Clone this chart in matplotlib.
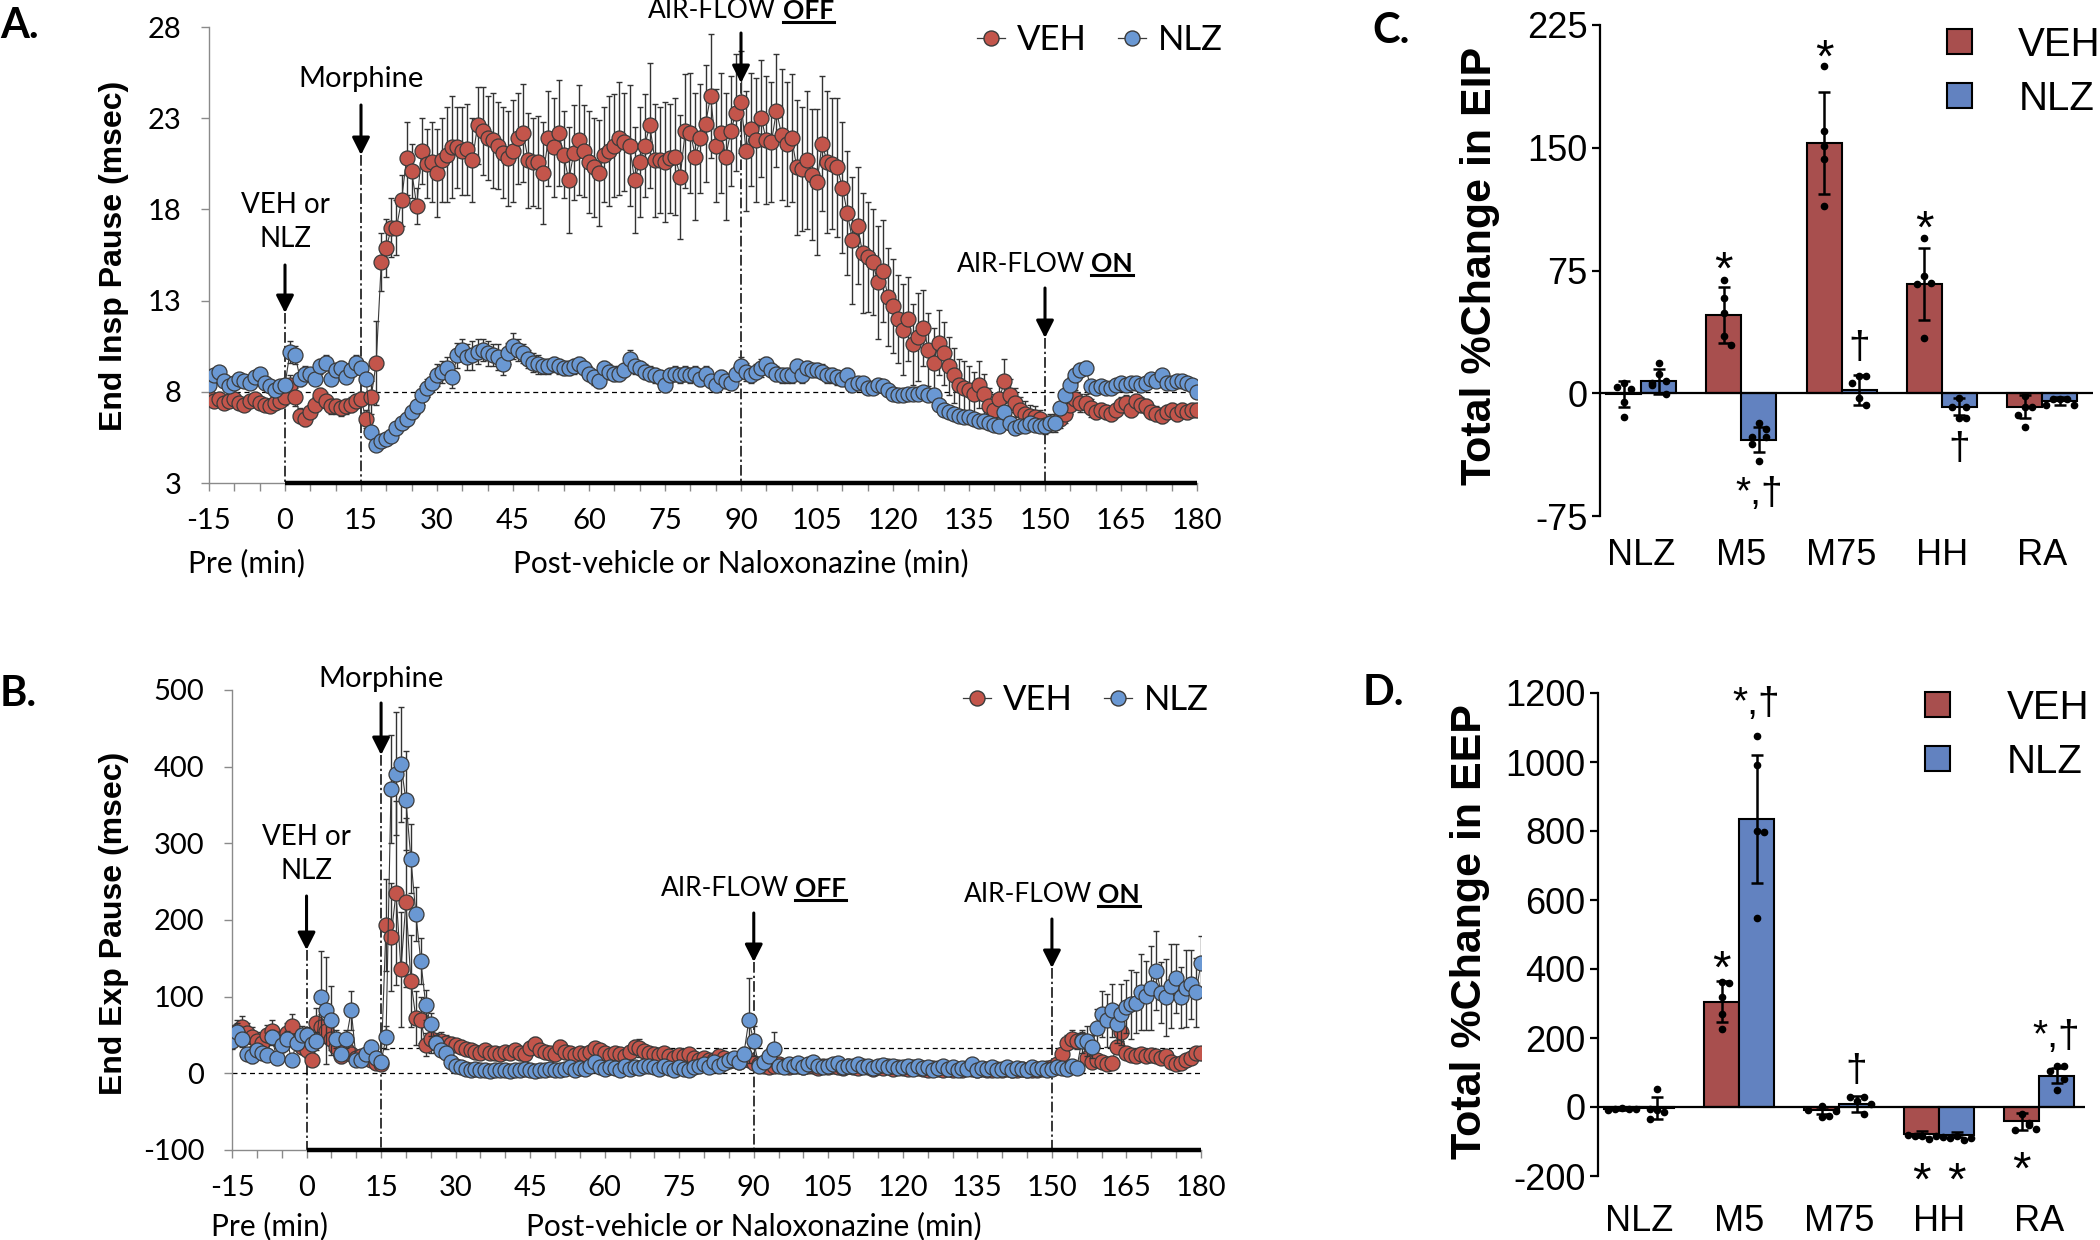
import matplotlib
matplotlib.use("Agg")
import matplotlib.pyplot as plt
import matplotlib.transforms as mtrans
from matplotlib.lines import Line2D
from matplotlib.patches import Patch
import numpy as np

# ---------------- data ----------------
minutes = np.arange(-15, 181)

# Panel A: end inspiratory pause (msec), one value per minute
eip_veh = [7.7, 7.5, 7.6, 7.4, 7.5, 7.6, 7.4, 7.3, 7.5, 7.6, 7.4, 7.3, 7.2, 7.4, 7.5,
           7.7, 8.4, 7.7, 6.7, 6.5, 6.9, 7.3, 7.8, 7.5, 7.2,
           7.2, 7.1, 7.2, 7.3, 7.5, 7.6, 6.5, 7.7, 9.6, 15.1,
           15.9, 17.0, 17.0, 18.5, 20.8, 20.1, 18.2, 21.2, 20.5, 20.6,
           20.0, 20.7, 21.0, 21.4, 21.4, 21.2, 21.3, 20.7, 22.6, 22.3,
           21.9, 21.8, 21.5, 21.1, 20.8, 21.2, 21.9, 22.2, 20.7, 20.6,
           20.6, 20.0, 21.9, 21.4, 22.2, 21.0, 19.6, 21.1, 21.8, 21.2,
           20.6, 20.3, 20.0, 21.0, 21.2, 21.5, 21.9, 21.7, 21.5, 19.6,
           20.6, 21.5, 22.6, 20.7, 20.7, 20.6, 20.8, 20.9, 19.8, 22.3,
           22.2, 20.9, 21.9, 22.7, 24.2, 21.5, 22.2, 20.9, 22.3, 23.3,
           23.9, 21.2, 22.4, 21.8, 23.0, 21.8, 21.7, 23.4, 22.1, 21.6,
           21.9, 20.3, 20.2, 20.7, 19.9, 19.5, 21.6, 20.6, 20.5, 20.3,
           19.2, 17.8, 16.3, 17.1, 15.6, 15.4, 15.1, 14.0, 14.6, 13.2,
           12.7, 12.0, 11.4, 12.0, 10.6, 11.0, 11.5, 10.3, 9.6, 10.7,
           10.1, 9.4, 8.9, 8.4, 8.2, 8.1, 7.9, 8.4, 7.9, 7.2,
           7.0, 7.6, 8.6, 7.8, 7.4, 7.0, 6.8, 6.7, 6.6, 6.5,
           6.2, 6.3, 6.3, 6.5, 6.8, 7.3, 7.6, 7.4, 7.4, 7.1,
           6.9, 7.0, 6.9, 6.8, 7.0, 7.3, 7.4, 7.0, 7.5, 7.3,
           7.2, 6.9, 6.8, 6.7, 6.9, 7.0, 6.8, 7.0, 6.9, 7.0, 7.0]
eip_veh_sem = [0.3, 0.3, 0.3, 0.3, 0.3, 0.3, 0.3, 0.3, 0.3, 0.3, 0.3, 0.3, 0.3, 0.3, 0.3,
               0.4, 0.5, 0.5, 0.4, 0.4, 0.4, 0.4, 0.4, 0.4, 0.4,
               0.4, 0.4, 0.4, 0.4, 0.4, 0.4, 0.5, 0.9, 2.3, 1.6,
               1.6, 1.6, 1.5, 1.4, 2.0, 1.5, 1.0, 1.8, 1.9, 2.2,
               2.4, 2.3, 2.6, 2.8, 2.2, 2.4, 2.5, 2.3, 2.1, 2.4,
               2.3, 2.6, 2.4, 2.5, 2.6, 2.8, 2.5, 2.7, 2.6, 2.4,
               2.5, 2.8, 2.6, 2.7, 2.9, 2.4, 2.9, 2.6, 3.0, 2.5,
               2.8, 2.7, 2.9, 2.6, 3.0, 2.8, 3.1, 2.7, 3.3, 2.9,
               3.0, 2.8, 3.4, 3.1, 2.9, 3.3, 3.0, 3.2, 3.4, 3.1,
               3.3, 3.5, 3.0, 3.2, 3.4, 3.1, 3.3, 3.5, 3.0, 3.2,
               2.8, 3.3, 3.1, 3.4, 3.2, 3.5, 3.3, 3.1, 3.6, 3.4,
               3.5, 3.7, 3.4, 3.8, 3.6, 4.0, 3.7, 3.9, 3.6, 3.8,
               3.6, 3.4, 3.5, 3.2, 3.3, 3.0, 2.9, 3.1, 2.8, 2.7,
               2.6, 2.4, 2.5, 2.3, 2.2, 2.4, 2.1, 2.0, 1.9, 1.8,
               1.7, 1.6, 1.5, 1.4, 1.5, 1.3, 1.2, 1.3, 1.1, 1.0,
               0.9, 1.0, 1.2, 0.9, 0.8, 0.7, 0.7, 0.6, 0.6, 0.5,
               0.5, 0.5, 0.5, 0.5, 0.5, 0.5, 0.5, 0.5, 0.5, 0.5,
               0.4, 0.4, 0.4, 0.4, 0.4, 0.4, 0.4, 0.4, 0.4, 0.4,
               0.4, 0.4, 0.4, 0.4, 0.4, 0.4, 0.4, 0.4, 0.4, 0.4, 0.4]
eip_nlz = [8.4, 8.9, 9.1, 8.6, 8.3, 8.5, 8.7, 8.6, 8.5, 8.8, 9.0, 8.5, 8.3, 8.1, 8.3,
           8.4, 10.2, 10.0, 8.7, 9.0, 9.0, 8.7, 9.4, 9.6, 8.7,
           9.2, 9.3, 8.8, 9.2, 9.6, 9.3, 8.7, 5.8, 5.1, 5.3,
           5.4, 5.6, 6.0, 6.3, 6.5, 6.9, 7.2, 7.8, 8.2, 8.5,
           8.9, 9.1, 9.3, 8.8, 10.0, 10.3, 9.9, 10.0, 10.2, 10.3,
           10.1, 10.0, 9.9, 9.5, 10.1, 10.5, 10.3, 10.1, 9.8, 9.6,
           9.5, 9.4, 9.4, 9.5, 9.4, 9.3, 9.3, 9.4, 9.5, 9.3,
           9.0, 8.8, 8.6, 9.3, 9.1, 9.0, 9.0, 9.2, 9.8, 9.4,
           9.3, 9.1, 9.0, 8.9, 8.8, 8.4, 8.9, 9.0, 8.9, 9.0,
           8.9, 9.0, 8.7, 9.0, 8.6, 8.4, 8.8, 8.6, 8.5, 9.0,
           9.4, 9.1, 8.9, 9.1, 9.3, 9.5, 9.2, 9.0, 8.9, 8.9,
           8.9, 9.4, 8.9, 9.3, 9.2, 9.2, 9.1, 8.9, 8.9, 8.8,
           8.7, 8.9, 8.4, 8.5, 8.5, 8.2, 8.2, 8.4, 8.3, 8.1,
           7.9, 7.8, 7.8, 7.9, 7.9, 7.9, 8.0, 7.8, 7.8, 7.3,
           7.0, 6.9, 6.8, 6.7, 6.6, 6.6, 6.5, 6.4, 6.4, 6.3,
           6.2, 6.1, 6.9, 6.3, 6.0, 6.1, 6.1, 6.3, 6.2, 6.1,
           6.1, 6.3, 6.3, 7.1, 7.8, 8.4, 8.9, 9.2, 9.3, 8.3,
           8.2, 8.3, 8.2, 8.2, 8.4, 8.5, 8.4, 8.5, 8.5, 8.4,
           8.5, 8.7, 8.6, 8.9, 8.5, 8.5, 8.6, 8.6, 8.5, 8.4, 8.0]
eip_nlz_sem = [0.3, 0.3, 0.3, 0.3, 0.3, 0.3, 0.3, 0.3, 0.3, 0.3, 0.3, 0.3, 0.3, 0.3, 0.3,
               0.3, 0.6, 0.5, 0.4, 0.4, 0.3, 0.3, 0.4, 0.4, 0.3,
               0.3, 0.4, 0.3, 0.4, 0.4, 0.3, 0.3, 0.3, 0.3, 0.3,
               0.3, 0.3, 0.3, 0.3, 0.4, 0.4, 0.4, 0.5, 0.5, 0.5,
               0.6, 0.6, 0.6, 0.6, 0.7, 0.6, 0.7, 0.8, 0.7, 0.6,
               0.7, 0.6, 0.7, 0.6, 0.6, 0.7, 0.6, 0.5, 0.5, 0.5,
               0.5, 0.4, 0.4, 0.4, 0.4, 0.4, 0.4, 0.4, 0.4, 0.4,
               0.4, 0.4, 0.4, 0.4, 0.4, 0.4, 0.4, 0.4, 0.5, 0.4,
               0.4, 0.4, 0.4, 0.4, 0.4, 0.4, 0.4, 0.4, 0.4, 0.4,
               0.4, 0.4, 0.4, 0.4, 0.4, 0.4, 0.4, 0.4, 0.4, 0.4,
               0.5, 0.5, 0.4, 0.4, 0.5, 0.4, 0.4, 0.4, 0.4, 0.4,
               0.4, 0.4, 0.4, 0.4, 0.4, 0.4, 0.4, 0.4, 0.4, 0.4,
               0.4, 0.4, 0.3, 0.3, 0.3, 0.3, 0.3, 0.3, 0.3, 0.3,
               0.3, 0.3, 0.3, 0.3, 0.3, 0.3, 0.3, 0.3, 0.3, 0.3,
               0.3, 0.3, 0.3, 0.3, 0.3, 0.3, 0.3, 0.3, 0.3, 0.3,
               0.3, 0.3, 0.3, 0.3, 0.3, 0.3, 0.3, 0.3, 0.3, 0.3,
               0.3, 0.3, 0.3, 0.3, 0.4, 0.4, 0.4, 0.4, 0.4, 0.3,
               0.3, 0.3, 0.3, 0.3, 0.3, 0.3, 0.3, 0.3, 0.3, 0.3,
               0.3, 0.3, 0.3, 0.3, 0.3, 0.3, 0.3, 0.3, 0.3, 0.3, 0.3]

# Panel B: end expiratory pause (msec)
eep_veh = [45, 55, 60, 52, 48, 42, 40, 50, 55, 45, 38, 52, 62, 42, 35,
           30, 18, 65, 60, 55, 45, 35, 22, 32, 25,
           20, 22, 20, 17, 14, 12, 193, 178, 235, 136,
           223, 121, 72, 69, 37, 45, 40, 42, 40, 38,
           37, 35, 32, 30, 28, 27, 30, 26, 27, 25,
           28, 26, 30, 27, 25, 33, 38, 30, 28, 26,
           25, 35, 28, 26, 24, 27, 25, 28, 33, 30,
           26, 24, 27, 25, 23, 28, 34, 33, 29, 27,
           25, 24, 27, 22, 20, 24, 22, 25, 20, 18,
           20, 18, 17, 22, 20, 16, 18, 15, 20, 18,
           14, 12, 10, 8, 10, 12, 9, 8, 10, 9,
           8, 10, 9, 7, 9, 8, 10, 8, 7, 9,
           8, 7, 9, 8, 6, 8, 7, 9, 6, 8,
           7, 6, 8, 7, 6, 5, 7, 6, 5, 6,
           5, 6, 5, 7, 6, 5, 6, 5, 4, 6,
           5, 6, 5, 4, 6, 5, 4, 5, 6, 7,
           8, 12, 25, 40, 45, 42, 44, 20, 15, 18,
           15, 12, 14, 35, 54, 27, 24, 22, 25, 22,
           24, 22, 20, 22, 15, 12, 14, 18, 20, 27, 26]
eep_veh_sem = [12, 14, 15, 13, 12, 12, 11, 13, 15, 12, 10, 14, 16, 12, 10,
               10, 8, 20, 18, 16, 14, 12, 8, 10, 8,
               7, 8, 7, 6, 5, 5, 60, 70, 120, 75,
               110, 60, 35, 30, 15, 18, 12, 12, 10, 10,
               8, 8, 7, 7, 6, 6, 7, 6, 6, 6,
               6, 6, 7, 6, 6, 9, 10, 7, 6, 6,
               6, 8, 6, 6, 5, 6, 5, 6, 8, 7,
               6, 5, 6, 5, 5, 6, 9, 12, 7, 6,
               5, 5, 5, 5, 5, 5, 5, 5, 5, 5,
               5, 4, 4, 5, 4, 4, 4, 4, 5, 4,
               4, 3, 3, 3, 3, 3, 3, 3, 3, 3,
               3, 3, 3, 3, 3, 3, 3, 3, 3, 3,
               3, 3, 3, 3, 3, 3, 3, 3, 3, 3,
               3, 3, 3, 3, 3, 3, 3, 3, 3, 3,
               3, 3, 3, 3, 3, 3, 3, 3, 3, 3,
               3, 3, 3, 3, 3, 3, 3, 3, 3, 3,
               3, 4, 6, 10, 12, 10, 10, 6, 5, 5,
               5, 4, 5, 8, 12, 7, 6, 5, 6, 5,
               6, 5, 5, 5, 4, 4, 4, 5, 6, 8, 8]
eep_nlz = [42, 54, 45, 25, 22, 30, 27, 24, 47, 20, 37, 45, 17, 40, 50,
           50, 38, 42, 99, 82, 69, 45, 25, 45, 82,
           17, 17, 25, 35, 20, 15, 47, 371, 391, 403,
           356, 280, 208, 146, 89, 64, 40, 30, 27, 15,
           10, 8, 6, 5, 6, 4, 5, 3, 4, 5,
           4, 3, 5, 4, 6, 4, 3, 5, 4, 6,
           5, 4, 6, 8, 5, 7, 6, 9, 15, 8,
           6, 8, 7, 5, 9, 6, 8, 7, 10, 9,
           8, 6, 9, 7, 5, 8, 6, 5, 8, 10,
           12, 8, 15, 10, 14, 18, 20, 15, 25, 69,
           42, 10, 15, 22, 32, 10, 8, 12, 10, 14,
           8, 12, 15, 10, 8, 9, 12, 14, 8, 10,
           9, 12, 8, 10, 7, 9, 11, 8, 10, 7,
           8, 10, 6, 9, 7, 8, 5, 7, 9, 6,
           8, 5, 7, 6, 12, 5, 7, 6, 8, 5,
           6, 8, 5, 7, 6, 5, 8, 6, 7, 5,
           6, 8, 7, 6, 10, 7, 42, 42, 35, 59,
           77, 69, 82, 64, 77, 87, 90, 92, 106, 101,
           111, 134, 105, 99, 114, 124, 99, 111, 116, 106, 144]
eep_nlz_sem = [10, 12, 10, 8, 8, 8, 8, 8, 10, 7, 9, 10, 6, 10, 12,
               10, 9, 12, 60, 70, 45, 12, 8, 12, 25,
               6, 6, 8, 9, 6, 5, 15, 70, 80, 75,
               65, 45, 35, 30, 20, 15, 10, 8, 6, 5,
               3, 3, 3, 3, 3, 3, 3, 3, 3, 3,
               3, 3, 3, 3, 3, 3, 3, 3, 3, 3,
               3, 3, 3, 3, 3, 3, 3, 3, 4, 3,
               3, 3, 3, 3, 3, 3, 3, 3, 3, 3,
               3, 3, 3, 3, 3, 3, 3, 3, 3, 3,
               3, 3, 4, 3, 4, 4, 4, 4, 10, 55,
               20, 3, 5, 8, 22, 3, 3, 3, 3, 3,
               3, 3, 3, 3, 3, 3, 3, 3, 3, 3,
               3, 3, 3, 3, 3, 3, 3, 3, 3, 3,
               3, 3, 3, 3, 3, 3, 3, 3, 3, 3,
               3, 3, 3, 3, 3, 3, 3, 3, 3, 3,
               3, 3, 3, 3, 3, 3, 3, 3, 3, 3,
               3, 3, 3, 3, 4, 3, 15, 20, 15, 25,
               30, 35, 35, 25, 40, 35, 45, 40, 50, 45,
               55, 52, 40, 50, 55, 45, 40, 50, 45, 45, 35]

# Panels C and D: total % change
groups = ["NLZ", "M5", "M75", "HH", "RA"]
pc_eip_veh = [-0.7, 47.7, 153, 66.9, -8.1]
pc_eip_veh_sd = [8, 17, 31, 22, 7.3]
pc_eip_nlz = [7.2, -28.4, 2, -8.1, -4.5]
pc_eip_nlz_sd = [7.4, 7.5, 9, 5, 2.5]
pc_eip_veh_rats = [[6.1, 2.7, 3.8, -5.2, -14.6], [69.1, 58.3, 48.9, 34.9, 29.7],
                   [199.7, 160.3, 151.3, 143.4, 114.6], [95, 71.4, 67.3, 66.9, 33.6],
                   [-1.8, -8.6, -8.6, -13.1, -20.5]]
pc_eip_nlz_rats = [[18.5, 11.7, 7.2, 6.1, 5, -0.7], [-18.2, -22.1, -26.6, -26.6, -31.1, -41.7],
                   [10.6, 10.6, 6.1, -2.9, -7.4], [-2.9, -8.1, -8.6, -14.9, -14.9],
                   [-3.4, -3.4, -3.4, -7.4, -7.4]]
pc_eep_veh = [-5, 305, -9, -78, -41]
pc_eep_veh_sd = [3, 59, 10, 8, 25]
pc_eep_nlz = [-3, 834, 7.5, -80, 91]
pc_eep_nlz_sd = [33, 185, 23, 8, 21]
pc_eep_veh_rats = [[-4, -5, -6, -6, -8], [363, 360, 320, 270, 227], [4, -30, -27, -11, -9],
                   [-83, -94, -83, -83, -81], [-19, -46, -51, -67, -65]]
pc_eep_nlz_rats = [[53, -9, -14, -6, -35], [1075, 991, 799, 797, 548], [16, 29, 29, 7.5, -19],
                   [-83, -96, -89, -89, -87], [120, 120, 104, 82, 50]]

# ---------------- style ----------------
W, H = 2100, 1240
RED = "#C3554B"
BLUE = "#6A98D3"
BAR_RED = "#A84F4E"
BAR_BLUE = "#6282C0"
EDGE = "#3a3a3a"
AXGRAY = "#8a8a8a"
XL = ["Lato", "DejaVu Sans"]
ARIAL = ["Liberation Sans", "DejaVu Sans"]

plt.rcParams["font.family"] = XL
plt.rcParams["axes.unicode_minus"] = False

fig = plt.figure(figsize=(W / 100, H / 100), dpi=100)


def fx(x):
    return x / W


def fy(y):
    return 1 - y / H


def axes_px(left, top, right, bottom):
    return fig.add_axes([fx(left), fy(bottom), (right - left) / W, (bottom - top) / H])


def airflow_label(ax, t, ycen, word):
    blend = mtrans.blended_transform_factory(ax.transData, fig.transFigure)
    t1 = ax.text(t, fy(ycen), "AIR-FLOW", transform=blend, fontsize=19, va="center", ha="left")
    t2 = ax.text(t, fy(ycen), word, transform=blend, fontsize=19, va="center", ha="left",
                 weight="bold")
    r = fig.canvas.get_renderer()
    b1 = t1.get_window_extent(r)
    b2 = t2.get_window_extent(r)
    gap = 6
    total = b1.width + gap + b2.width
    cx = ax.transData.transform((t, 0))[0]
    x0 = cx - total / 2
    t1.set_transform(fig.transFigure)
    t2.set_transform(fig.transFigure)
    t1.set_position((x0 / W, fy(ycen)))
    t2.set_position(((x0 + b1.width + gap) / W, fy(ycen)))
    b2 = t2.get_window_extent(r)
    uy = b2.y0 + 1
    fig.add_artist(Line2D([b2.x0 / W, b2.x1 / W], [uy / H, uy / H], color="k", lw=2.2,
                          transform=fig.transFigure))


def timecourse(ax, veh, veh_err, nlz, nlz_err, ylim, yticks):
    ax.errorbar(minutes, veh, yerr=veh_err, fmt="none", ecolor="#333333", elinewidth=1.0,
                capsize=2.4, capthick=1.0, zorder=3)
    ax.plot(minutes, veh, "-o", color=EDGE, lw=0.8, ms=10.8, mfc=RED, mec=EDGE, mew=0.9,
            zorder=4)
    ax.errorbar(minutes, nlz, yerr=nlz_err, fmt="none", ecolor="#333333", elinewidth=1.0,
                capsize=2.4, capthick=1.0, zorder=5)
    ax.plot(minutes, nlz, "-o", color=EDGE, lw=0.8, ms=10.8, mfc=BLUE, mec=EDGE, mew=0.9,
            zorder=6)
    ax.set_xlim(-15, 180)
    ax.set_ylim(*ylim)
    ax.set_xticks(np.arange(-15, 181, 15))
    ax.set_xticks(np.arange(-15, 181, 5), minor=True)
    ax.set_yticks(yticks)
    for s in ("top", "right"):
        ax.spines[s].set_visible(False)
    for s in ("left", "bottom"):
        ax.spines[s].set_color(AXGRAY)
        ax.spines[s].set_linewidth(1)
    ax.tick_params(which="both", direction="out", color=AXGRAY, length=6, width=1,
                   labelsize=21)
    ax.tick_params(axis="x", pad=12)
    ax.tick_params(axis="y", pad=14)
    ax.plot([0, 180], [ylim[0], ylim[0]], color="k", lw=3.2, solid_capstyle="butt",
            clip_on=False, zorder=7)


def events(ax, items, bottom_px):
    """items: (time, arrow start y, arrow tip y) in pixels."""
    blend = mtrans.blended_transform_factory(ax.transData, fig.transFigure)
    for t, start, tip in items:
        ax.annotate("", xy=(t, fy(tip)), xytext=(t, fy(start)), xycoords=blend,
                    textcoords=blend, annotation_clip=False,
                    arrowprops=dict(arrowstyle="-|>,head_length=0.75,head_width=0.38",
                                    mutation_scale=14, color="k", lw=2.2, shrinkA=0,
                                    shrinkB=0))
        ax.plot([t, t], [fy(tip), fy(bottom_px)], transform=blend, color="k", lw=1.1,
                ls=(0, (7, 2, 1.5, 2)), zorder=2, clip_on=False)


def ts_legend(ax, x, y):
    hs = [Line2D([], [], color=EDGE, lw=0.9, marker="o", ms=10.8, mfc=c, mec=EDGE)
          for c in (RED, BLUE)]
    ax.legend(hs, ["VEH", "NLZ"], ncol=2, loc="center left", bbox_to_anchor=(fx(x), fy(y)),
              bbox_transform=fig.transFigure, frameon=False, fontsize=25, handlelength=0.8,
              handletextpad=0.35, columnspacing=0.9, borderpad=0, borderaxespad=0)


def spread(vals, span, step):
    offs, placed = [], []
    for v in vals:
        n = sum(1 for p in placed if abs(p - v) < span)
        k = (n + 1) // 2
        offs.append(0 if n == 0 else (1 if n % 2 else -1) * k * step)
        placed.append(v)
    return offs


def bars(ax, vm, vs, nm, ns, vr, nr, ylim, yticks, marks, label_pad):
    x = np.arange(len(groups))
    w = 0.35
    span = (ylim[1] - ylim[0]) * 0.02
    ax.bar(x - w / 2, vm, w, color=BAR_RED, edgecolor="k", linewidth=1.5, zorder=2)
    ax.bar(x + w / 2, nm, w, color=BAR_BLUE, edgecolor="k", linewidth=1.5, zorder=2)
    for xs, m, s, rats in ((x - w / 2, vm, vs, vr), (x + w / 2, nm, ns, nr)):
        ax.errorbar(xs, m, yerr=s, fmt="none", ecolor="k", elinewidth=1.8, capsize=4,
                    capthick=1.8, zorder=3)
        for xi, pts in zip(xs, rats):
            offs = spread(pts, span, 0.07)
            ax.plot(xi + np.array(offs), pts, "o", color="k", ms=4.5, zorder=4)
    ax.axhline(0, color="k", lw=1.6, zorder=5)
    ax.set_ylim(*ylim)
    ax.set_yticks(yticks)
    ax.set_xticks(x)
    ax.set_xticklabels(groups)
    for s in ("top", "right", "bottom"):
        ax.spines[s].set_visible(False)
    ax.spines["left"].set_linewidth(1.6)
    ax.tick_params(axis="y", direction="out", length=6, width=1.6, pad=3)
    ax.tick_params(axis="x", length=0, pad=label_pad)
    plt.setp(ax.get_yticklabels(), family=ARIAL, fontsize=26)
    plt.setp(ax.get_xticklabels(), family=ARIAL, fontsize=26)
    for gi, which, yv, txt in marks:
        xo = x[gi] + (-w / 2 if which == "veh" else w / 2)
        size = 34 if txt == "*" else 28
        off = 0.58 * size if txt == "*" else 0.31 * size
        ax.annotate(txt, xy=(xo, yv), xytext=(0, -off), textcoords="offset points",
                    ha="center", va="baseline", fontsize=size, family=ARIAL)


def bar_legend(ax, x, y, textpad):
    hs = [Patch(facecolor=c, edgecolor="k", lw=1.5) for c in (BAR_RED, BAR_BLUE)]
    ax.legend(hs, ["VEH", "NLZ"], loc="upper left", bbox_to_anchor=(fx(x), fy(y)),
              bbox_transform=fig.transFigure, frameon=False,
              prop={"family": ARIAL, "size": 29}, handlelength=0.62, handleheight=0.58,
              handletextpad=textpad, labelspacing=0.4, borderpad=0, borderaxespad=0)


# ---------------- panel A ----------------
axA = axes_px(209, 27, 1197, 483)
timecourse(axA, eip_veh, eip_veh_sem, eip_nlz, eip_nlz_sem, (3, 28), [3, 8, 13, 18, 23, 28])
axA.axhline(8, color="k", lw=0.9, ls=(0, (4, 3)), zorder=2)
events(axA, [(0, 265, 313), (15, 105, 155), (90, 33, 83), (150, 288, 338)], 483)
blendA = mtrans.blended_transform_factory(axA.transData, fig.transFigure)
axA.text(0, fy(222), "VEH or\nNLZ", transform=blendA, ha="center", va="center",
         fontsize=20, linespacing=1.35)
axA.text(15, fy(79), "Morphine", transform=blendA, ha="center", va="center", fontsize=21)
axA.text(-7.5, fy(563), "Pre (min)", transform=blendA, ha="center", va="center", fontsize=21.5)
axA.text(90, fy(563), "Post-vehicle or Naloxonazine (min)", transform=blendA, ha="center",
         va="center", fontsize=21.5)
airflow_label(axA, 90, 11, "OFF")
airflow_label(axA, 150, 264, "ON")
ts_legend(axA, 977, 40)
fig.text(fx(114), fy(256), "End Insp Pause (msec)", rotation=90, ha="center", va="center",
         fontsize=23, weight="bold", family=ARIAL)
fig.text(fx(0), fy(26), "A.", ha="left", va="center", fontsize=30, weight="bold")

# ---------------- panel B ----------------
axB = axes_px(232, 690, 1201, 1150)
timecourse(axB, eep_veh, eep_veh_sem, eep_nlz, eep_nlz_sem, (-100, 500),
           [-100, 0, 100, 200, 300, 400, 500])
axB.axhline(0, color="k", lw=0.9, ls=(0, (4, 3)), zorder=2)
axB.plot([15, 180], [33, 33], color="k", lw=0.9, ls=(0, (4, 3)), zorder=2)
events(axB, [(0, 896, 950), (15, 703, 755), (90, 913, 962), (150, 919, 968)], 1150)
blendB = mtrans.blended_transform_factory(axB.transData, fig.transFigure)
axB.text(0, fy(854), "VEH or\nNLZ", transform=blendB, ha="center", va="center",
         fontsize=20, linespacing=1.35)
axB.text(15, fy(679), "Morphine", transform=blendB, ha="center", va="center", fontsize=21)
axB.text(-7.5, fy(1226), "Pre (min)", transform=blendB, ha="center", va="center",
         fontsize=21.5)
axB.text(90, fy(1226), "Post-vehicle or Naloxonazine (min)", transform=blendB, ha="center",
         va="center", fontsize=21.5)
airflow_label(axB, 90, 889, "OFF")
airflow_label(axB, 150, 895, "ON")
ts_legend(axB, 963, 700)
fig.text(fx(114), fy(923), "End Exp Pause (msec)", rotation=90, ha="center", va="center",
         fontsize=23, weight="bold", family=ARIAL)
fig.text(fx(0), fy(694), "B.", ha="left", va="center", fontsize=30, weight="bold")

# ---------------- panel C ----------------
axC = axes_px(1600, 25, 2093, 516)
axC.set_xlim(-0.41, 4.507)
bars(axC, pc_eip_veh, pc_eip_veh_sd, pc_eip_nlz, pc_eip_nlz_sd, pc_eip_veh_rats,
     pc_eip_nlz_rats, (-75, 225), [-75, 0, 75, 150, 225],
     [(1, "veh", 83.8, "*"), (1, "nlz", -60, "*,†"), (2, "veh", 213, "*"),
      (2, "nlz", 28.6, "†"), (3, "veh", 108.5, "*"), (3, "nlz", -33, "†")], 16)
bar_legend(axC, 1947, 26, 1.15)
fig.text(fx(1480), fy(266), "Total %Change in EIP", rotation=90, ha="center", va="center",
         fontsize=31, weight="bold", family=ARIAL)
fig.text(fx(1372), fy(31), "C.", ha="left", va="center", fontsize=30, weight="bold")

# ---------------- panel D ----------------
axD = axes_px(1598, 693, 2085, 1176)
axD.set_xlim(-0.41, 4.46)
bars(axD, pc_eep_veh, pc_eep_veh_sd, pc_eep_nlz, pc_eep_nlz_sd, pc_eep_veh_rats,
     pc_eep_nlz_rats, (-200, 1200), [-200, 0, 200, 400, 600, 800, 1000, 1200],
     [(1, "veh", 441, "*"), (1, "nlz", 1173, "*,†"), (2, "nlz", 109, "†"),
      (4, "nlz", 208, "*,†"), (3, "veh", -174, "*"), (3, "nlz", -174, "*"),
      (4, "veh", -142, "*")], 20)
bar_legend(axD, 1925, 689, 1.4)
fig.text(fx(1470), fy(932), "Total %Change in EEP", rotation=90, ha="center", va="center",
         fontsize=31, weight="bold", family=ARIAL)
fig.text(fx(1363), fy(693), "D.", ha="left", va="center", fontsize=30, weight="bold")

fig.savefig("out.png", dpi=100)
